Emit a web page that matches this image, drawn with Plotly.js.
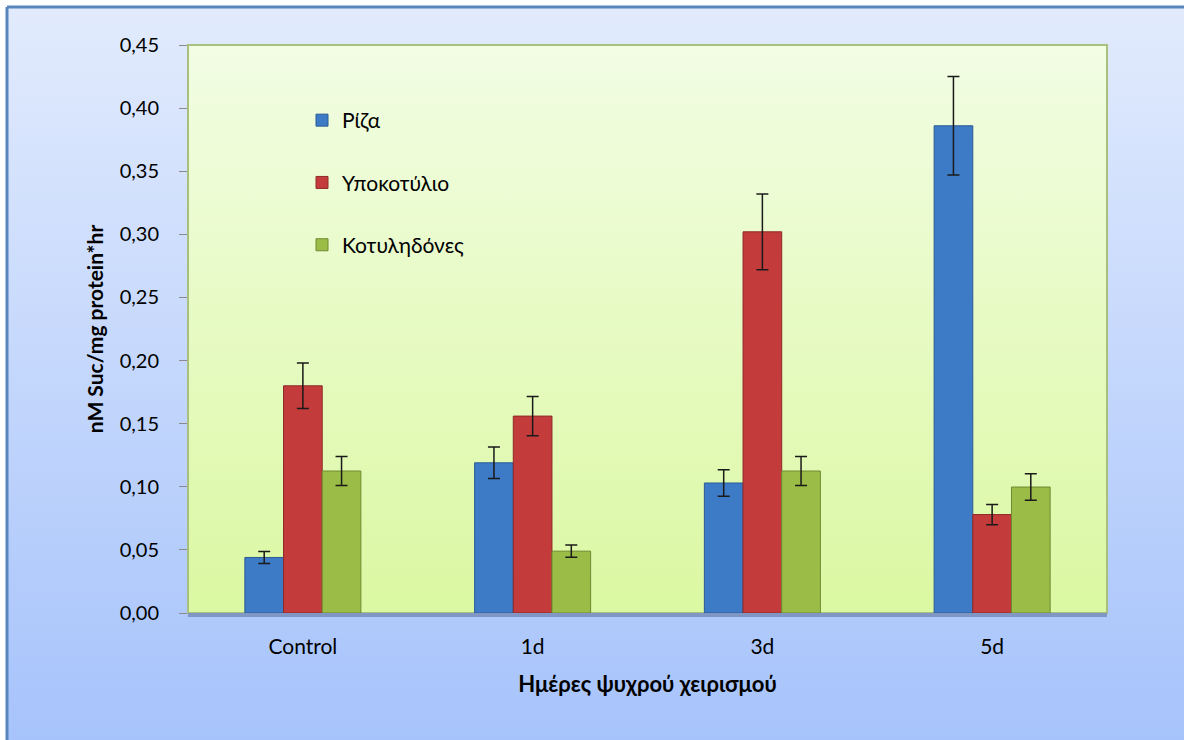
<!DOCTYPE html>
<html>
<head>
<meta charset="utf-8">
<script src="https://cdn.plot.ly/plotly-3.0.1.min.js"></script>
<style>
html,body{margin:0;padding:0;background:#ffffff;}
#chart{width:1184px;height:740px;}
</style>
</head>
<body>
<div id="chart"></div>
<script>
const categories = ["Control", "1d", "3d", "5d"];
const seriesNames = ["Ρίζα", "Υποκοτύλιο", "Κοτυληδόνες"];
const rizaValues = [0.044, 0.119, 0.103, 0.386];
const rizaErrors = [0.0047, 0.0125, 0.0105, 0.039];
const ypokotylioValues = [0.180, 0.156, 0.302, 0.078];
const ypokotylioErrors = [0.018, 0.0155, 0.030, 0.008];
const kotylidonesValues = [0.1125, 0.049, 0.1125, 0.0998];
const kotylidonesErrors = [0.0115, 0.0048, 0.0115, 0.0105];
const yTickValues = [0, 0.05, 0.10, 0.15, 0.20, 0.25, 0.30, 0.35, 0.40, 0.45];

const colors = ["#3d7bc7", "#c43b3b", "#9bbd47"];
const lineColors = ["#2c5a94", "#8e2a2a", "#6f8a30"];
const valuesList = [rizaValues, ypokotylioValues, kotylidonesValues];
const errorsList = [rizaErrors, ypokotylioErrors, kotylidonesErrors];

const traces = seriesNames.map((name, i) => ({
  type: "bar",
  name: name,
  x: categories,
  y: valuesList[i],
  legendgroup: "g" + i,
  marker: {color: colors[i], line: {color: lineColors[i], width: 1}},
  error_y: {type: "data", array: errorsList[i], visible: true, color: "#1a1a1a", thickness: 1.5, width: 6}
}));

function gradSvg(top, bottom) {
  const svg = '<svg xmlns="http://www.w3.org/2000/svg" width="100" height="100" preserveAspectRatio="none">' +
    '<defs><linearGradient id="g" x1="0" y1="0" x2="0" y2="1">' +
    '<stop offset="0" stop-color="' + top + '"/><stop offset="1" stop-color="' + bottom + '"/>' +
    '</linearGradient></defs><rect width="100" height="100" fill="url(#g)"/></svg>';
  return "data:image/svg+xml;base64," + btoa(svg);
}

// geometry: plot area 188..1107 x, 45..613 y
const W = 1184, H = 740, L = 188, R = 77, T = 45, B = 127;
const pw = W - L - R, ph = H - T - B;
const px = v => (v - L) / pw;
const py = v => (H - B - v) / ph;
const FONT = "Lato, 'Open Sans', sans-serif";

const layout = {
  width: W, height: H,
  margin: {l: L, r: R, t: T, b: B, pad: 0},
  paper_bgcolor: "#ffffff",
  plot_bgcolor: "rgba(0,0,0,0)",
  separators: ",.",
  font: {family: FONT, color: "#000000", size: 20},
  barmode: "group",
  bargap: 0.495,
  bargroupgap: 0,
  showlegend: true,
  legend: {
    x: px(302), y: py(100), xanchor: "left", yanchor: "top",
    bgcolor: "rgba(0,0,0,0)", borderwidth: 0,
    font: {family: FONT, size: 21, color: "#000000"},
    tracegroupgap: 32, traceorder: "grouped"
  },
  xaxis: {
    type: "category",
    showline: true, linecolor: "#8096c4", linewidth: 4,
    ticks: "", showgrid: false, zeroline: false,
    ticklabelstandoff: 12,
    tickfont: {family: FONT, size: 21, color: "#000000"},
    title: {text: "Ημέρες ψυχρού χειρισμού", standoff: 20,
      font: {family: FONT, size: 22, color: "#000000", weight: "bold"}}
  },
  yaxis: {
    range: [0, 0.45],
    tickvals: yTickValues,
    tickformat: ".2f",
    ticks: "outside", ticklen: 8, tickcolor: "#8a8a8a", tickwidth: 1,
    showgrid: false, zeroline: false, showline: false,
    ticklabelstandoff: 16,
    tickfont: {family: FONT, size: 20, color: "#000000"},
    title: {text: "nM Suc/mg protein*hr", standoff: 10,
      font: {family: FONT, size: 21, color: "#000000", weight: "bold"}}
  },
  images: [
    {source: gradSvg("#e2ebfd", "#a6c3fb"), xref: "paper", yref: "paper",
     x: px(7), y: py(7), sizex: (W - 7) / pw, sizey: (H - 7) / ph,
     xanchor: "left", yanchor: "top", sizing: "stretch", layer: "below"},
    {source: gradSvg("#f2fde4", "#dbf8a2"), xref: "paper", yref: "paper",
     x: 0, y: 1, sizex: 1, sizey: 1,
     xanchor: "left", yanchor: "top", sizing: "stretch", layer: "below"}
  ],
  shapes: [
    {type: "rect", xref: "paper", yref: "paper", x0: 0, x1: 1, y0: 0, y1: 1,
     line: {color: "#a9c07c", width: 2}, fillcolor: "rgba(0,0,0,0)", layer: "below"},
    {type: "line", xref: "paper", yref: "paper", x0: px(7), x1: px(W), y0: py(7), y1: py(7),
     line: {color: "#5a86c0", width: 3}},
    {type: "line", xref: "paper", yref: "paper", x0: px(7), x1: px(7), y0: py(7), y1: py(H),
     line: {color: "#5a86c0", width: 3}}
  ]
};

Plotly.newPlot("chart", traces, layout, {displayModeBar: false, staticPlot: true});
</script>
</body>
</html>
